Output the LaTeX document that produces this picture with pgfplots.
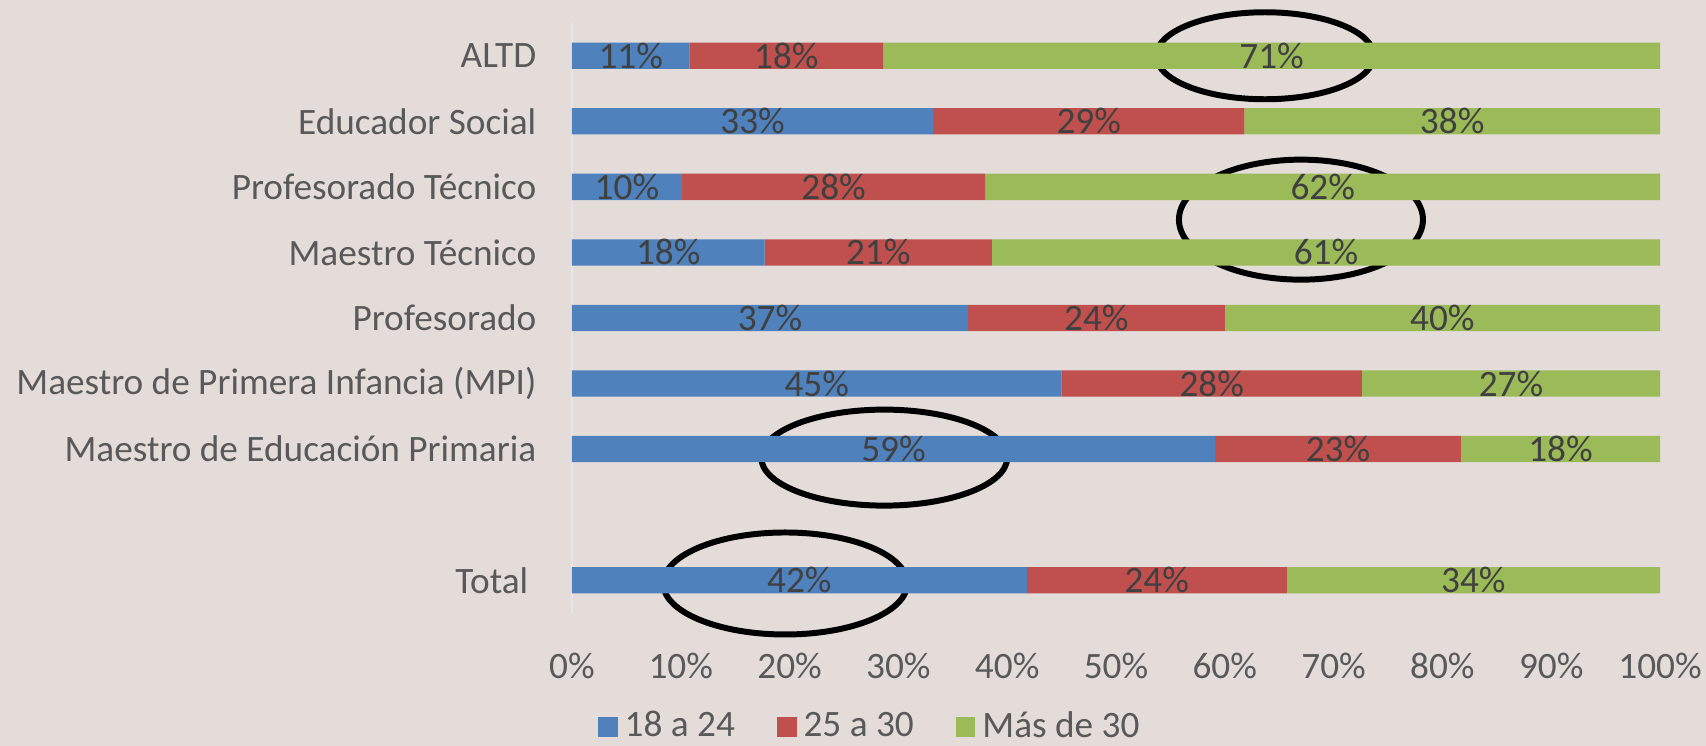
\documentclass[border=0pt]{standalone}
\usepackage{fontspec}
\setmainfont{Carlito}
\usepackage{pgfplots}
\pgfplotsset{compat=1.18}

\definecolor{bgc}{RGB}{227,220,216}
\definecolor{cblue}{RGB}{79,129,189}
\definecolor{cred}{RGB}{192,80,77}
\definecolor{cgreen}{RGB}{155,187,89}
\definecolor{tickc}{RGB}{89,89,89}
\definecolor{labc}{RGB}{64,64,64}

\begin{document}
\begin{tikzpicture}
\fill[bgc] (-5.72,-1.33) rectangle (11.34,6.13);
\begin{axis}[
  at={(0,0)}, anchor=south west,
  scale only axis,
  width=10.88cm, height=5.90cm,
  clip=false,
  xbar stacked,
  bar width=0.263cm,
  xmin=0, xmax=100,
  ymin=-0.5, ymax=8.5,
  xtick={0,10,...,100},
  xticklabel={\pgfmathprintnumber{\tick}\%},
  ytick={0,2,3,4,5,6,7,8},
  yticklabels={Total\kern0.08cm,Maestro de Educación Primaria,Maestro de Primera Infancia (MPI),Profesorado,Maestro Técnico,Profesorado Técnico,Educador Social,ALTD},
  /pgf/number format/assume math mode=true,
  font=\fontsize{10.6}{12.7}\selectfont,
  tick label style={color=tickc},
  yticklabel style={inner sep=0pt, xshift=-0.35cm},
  xticklabel style={inner sep=0pt, yshift=-0.39cm},
  major tick length=0pt,
  axis lines*=left,
  x axis line style={draw=none},
  y axis line style={draw=black!10},
  point meta=explicit symbolic,
  nodes near coords={\pgfplotspointmeta\%},
  every node near coord/.append style={color=labc, anchor=center, inner sep=0pt},
  legend style={at={(0.276,-0.193)}, anchor=center, draw=none, fill=none,
    legend columns=3, font=\fontsize{10.6}{12.7}\selectfont\color{tickc},
    /tikz/every even column/.append style={column sep=0.35cm}},
  legend image code/.code={\fill[#1] (0cm,-0.098cm) rectangle (0.196cm,0.098cm);},
]
\addplot[fill=cblue, draw=none] coordinates {
(41.8,0) [42]
(59.1,2) [59]
(45.0,3) [45]
(36.4,4) [37]
(17.7,5) [18]
(10.1,6) [10]
(33.2,7) [33]
(10.8,8) [11]
};
\addplot[fill=cred, draw=none] coordinates {
(23.9,0) [24]
(22.6,2) [23]
(27.6,3) [28]
(23.6,4) [24]
(20.9,5) [21]
(27.9,6) [28]
(28.6,7) [29]
(17.8,8) [18]
};
\addplot[fill=cgreen, draw=none] coordinates {
(34.3,0) [34]
(18.3,2) [18]
(27.4,3) [27]
(40.0,4) [40]
(61.4,5) [61]
(62.0,6) [62]
(38.2,7) [38]
(71.4,8) [71]
};
\legend{18 a 24, 25 a 30, Más de 30}
% circled values
\draw[line width=1.7pt] (axis cs:63.7,8) ellipse [x radius=1.088cm, y radius=0.435cm];
\draw[line width=1.7pt] (axis cs:67,5.5) ellipse [x radius=1.22cm, y radius=0.60cm];
\draw[line width=1.7pt] (axis cs:28.7,1.87) ellipse [x radius=1.23cm, y radius=0.48cm];
\draw[line width=1.7pt] (axis cs:19.6,-0.05) ellipse [x radius=1.22cm, y radius=0.51cm];
\end{axis}
\pgfresetboundingbox
\path[use as bounding box] (-5.72,-1.33) rectangle (11.34,6.13);
\end{tikzpicture}
\end{document}
